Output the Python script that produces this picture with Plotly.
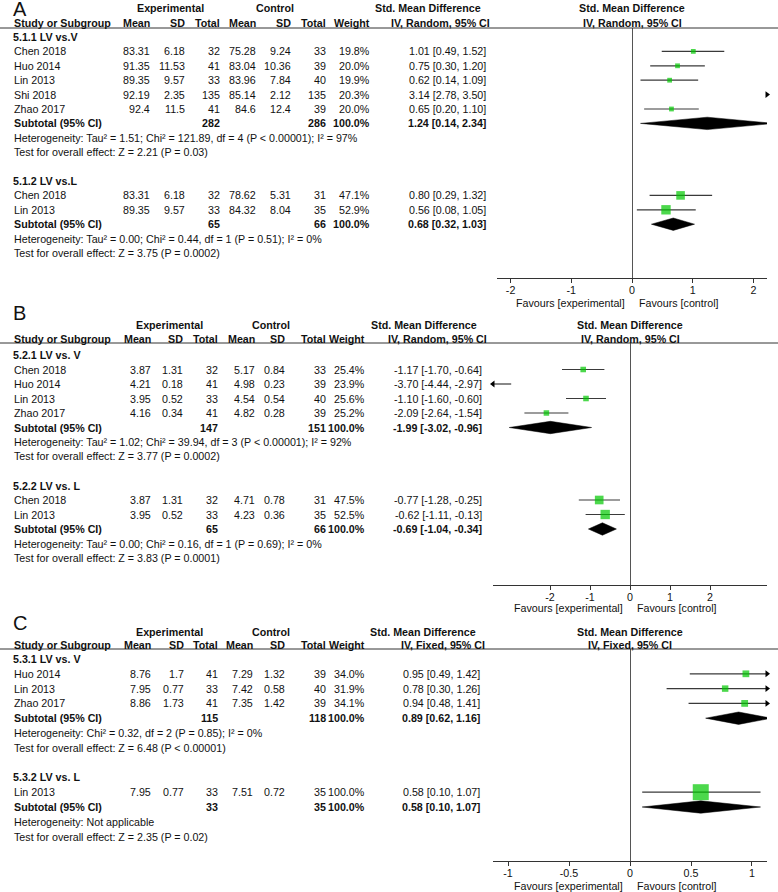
import plotly.graph_objects as go

W, H = 778, 892
FONT = "Liberation Sans, Arial, Helvetica, sans-serif"
FS = 10.7
INK = "#111111"
GREEN = "#00c800"
CI_COLOR = "#3a3a3a"
AXIS_COLOR = "#333333"

# ---------------- panel A : 5.1.x ----------------
A_SUBGROUP = ["5.1.1 LV vs.V", "5.1.2 LV vs.L"]
A_GROUP = [0, 0, 0, 0, 0, 1, 1]
A_STUDY = ["Chen 2018", "Huo 2014", "Lin 2013", "Shi 2018", "Zhao 2017", "Chen 2018", "Lin 2013"]
A_MEAN_E = [83.31, 91.35, 89.35, 92.19, 92.4, 83.31, 89.35]
A_SD_E = [6.18, 11.53, 9.57, 2.35, 11.5, 6.18, 9.57]
A_N_E = [32, 41, 33, 135, 41, 32, 33]
A_MEAN_C = [75.28, 83.04, 83.96, 85.14, 84.6, 78.62, 84.32]
A_SD_C = [9.24, 10.36, 7.84, 2.12, 12.4, 5.31, 8.04]
A_N_C = [33, 39, 40, 135, 39, 31, 35]
A_WEIGHT = [19.8, 20.0, 19.9, 20.3, 20.0, 47.1, 52.9]
A_SMD = [1.01, 0.75, 0.62, 3.14, 0.65, 0.80, 0.56]
A_LO = [0.49, 0.30, 0.14, 2.78, 0.20, 0.29, 0.08]
A_HI = [1.52, 1.20, 1.09, 3.50, 1.10, 1.32, 1.05]
A_SUB_N_E = [282, 65]
A_SUB_N_C = [286, 66]
A_SUB_SMD = [1.24, 0.68]
A_SUB_LO = [0.14, 0.32]
A_SUB_HI = [2.34, 1.03]
A_HET = ["Heterogeneity: Tau² = 1.51; Chi² = 121.89, df = 4 (P < 0.00001); I² = 97%",
         "Heterogeneity: Tau² = 0.00; Chi² = 0.44, df = 1 (P = 0.51); I² = 0%"]
A_TEST = ["Test for overall effect: Z = 2.21 (P = 0.03)",
          "Test for overall effect: Z = 3.75 (P = 0.0002)"]
A_TICKS = [-2, -1, 0, 1, 2]
A_TICKTEXT = ["-2", "-1", "0", "1", "2"]

# ---------------- panel B : 5.2.x ----------------
B_SUBGROUP = ["5.2.1 LV vs. V", "5.2.2 LV vs. L"]
B_GROUP = [0, 0, 0, 0, 1, 1]
B_STUDY = ["Chen 2018", "Huo 2014", "Lin 2013", "Zhao 2017", "Chen 2018", "Lin 2013"]
B_MEAN_E = [3.87, 4.21, 3.95, 4.16, 3.87, 3.95]
B_SD_E = [1.31, 0.18, 0.52, 0.34, 1.31, 0.52]
B_N_E = [32, 41, 33, 41, 32, 33]
B_MEAN_C = [5.17, 4.98, 4.54, 4.82, 4.71, 4.23]
B_SD_C = [0.84, 0.23, 0.54, 0.28, 0.78, 0.36]
B_N_C = [33, 39, 40, 39, 31, 35]
B_WEIGHT = [25.4, 23.9, 25.6, 25.2, 47.5, 52.5]
B_SMD = [-1.17, -3.70, -1.10, -2.09, -0.77, -0.62]
B_LO = [-1.70, -4.44, -1.60, -2.64, -1.28, -1.11]
B_HI = [-0.64, -2.97, -0.60, -1.54, -0.25, -0.13]
B_SUB_N_E = [147, 65]
B_SUB_N_C = [151, 66]
B_SUB_SMD = [-1.99, -0.69]
B_SUB_LO = [-3.02, -1.04]
B_SUB_HI = [-0.96, -0.34]
B_HET = ["Heterogeneity: Tau² = 1.02; Chi² = 39.94, df = 3 (P < 0.00001); I² = 92%",
         "Heterogeneity: Tau² = 0.00; Chi² = 0.16, df = 1 (P = 0.69); I² = 0%"]
B_TEST = ["Test for overall effect: Z = 3.77 (P = 0.0002)",
          "Test for overall effect: Z = 3.83 (P = 0.0001)"]
B_TICKS = [-2, -1, 0, 1, 2]
B_TICKTEXT = ["-2", "-1", "0", "1", "2"]

# ---------------- panel C : 5.3.x ----------------
C_SUBGROUP = ["5.3.1 LV vs. V", "5.3.2 LV vs. L"]
C_GROUP = [0, 0, 0, 1]
C_STUDY = ["Huo 2014", "Lin 2013", "Zhao 2017", "Lin 2013"]
C_MEAN_E = [8.76, 7.95, 8.86, 7.95]
C_SD_E = [1.7, 0.77, 1.73, 0.77]
C_N_E = [41, 33, 41, 33]
C_MEAN_C = [7.29, 7.42, 7.35, 7.51]
C_SD_C = [1.32, 0.58, 1.42, 0.72]
C_N_C = [39, 40, 39, 35]
C_WEIGHT = [34.0, 31.9, 34.1, 100.0]
C_SMD = [0.95, 0.78, 0.94, 0.58]
C_LO = [0.49, 0.30, 0.48, 0.10]
C_HI = [1.42, 1.26, 1.41, 1.07]
C_SUB_N_E = [115, 33]
C_SUB_N_C = [118, 35]
C_SUB_SMD = [0.89, 0.58]
C_SUB_LO = [0.62, 0.10]
C_SUB_HI = [1.16, 1.07]
C_HET = ["Heterogeneity: Chi² = 0.32, df = 2 (P = 0.85); I² = 0%",
         "Heterogeneity: Not applicable"]
C_TEST = ["Test for overall effect: Z = 6.48 (P < 0.00001)",
          "Test for overall effect: Z = 2.35 (P = 0.02)"]
C_TICKS = [-1, -0.5, 0, 0.5, 1]
C_TICKTEXT = ["-1", "-0.5", "0", "0.5", "1"]

# pixel geometry of each panel (layout only)
GEO_A = dict(letter=9, h1=8, h2=23, line=28, row0=37, sp=14.4, axis=278, fav=303,
             x0=497, x1=767, half=2.224, cols=[152, 187, 222, 258, 293, 328, 372, 488],
             exp_c=170, ctl_c=275, smd_r=(483, 492))
GEO_B = dict(letter=313, h1=325, h2=339, line=343, row0=355, sp=14.5, axis=585, fav=608,
             x0=493, x1=767, half=3.425, cols=[153, 185, 220, 257, 287, 328, 367, 484],
             exp_c=169, ctl_c=271, smd_r=(479, 489))
GEO_C = dict(letter=623, h1=632, h2=645, line=649, row0=659, sp=14.8, axis=861, fav=886,
             x0=493, x1=767, half=1.123, cols=[153, 186, 220, 255, 287, 328, 367, 482],
             exp_c=169, ctl_c=271, smd_r=(478, 487))

fig = go.Figure()
annotations = []
shapes = []


def py(p):
    return 1 - p / H


def px(p):
    return p / W


def txt(x, y, s, anchor="left", bold=False, size=FS, xref="paper", xshift=0):
    annotations.append(dict(
        x=x, y=y, xref=xref, yref="paper", text=f"<b>{s}</b>" if bold else s,
        showarrow=False, xanchor=anchor, yanchor="middle", xshift=xshift,
        font=dict(family=FONT, size=size, color=INK)))


def draw_panel(k, letter, method, g, subgroups, group, study, mean_e, sd_e, n_e,
               mean_c, sd_c, n_c, weight, smd, lo, hi, sub_ne, sub_nc, sub_smd,
               sub_lo, sub_hi, het, test, ticks, ticktext):
    sfx = "" if k == 1 else str(k)
    xa, ya = "x" + sfx, "y" + sfx
    xmin, xmax = -g["half"], g["half"]
    cols = g["cols"]

    def rp(r):
        return py(g["row0"] + r * g["sp"])

    fig.layout["xaxis" + sfx] = dict(
        domain=[px(g["x0"]), px(g["x1"])], range=[xmin, xmax], anchor=ya,
        showgrid=False, zeroline=True, zerolinecolor="#555555", zerolinewidth=1,
        showline=True, linecolor=AXIS_COLOR, linewidth=1, ticks="outside",
        ticklen=4, tickcolor=AXIS_COLOR, tickvals=ticks, ticktext=ticktext,
        ticklabelstandoff=-2,
        tickfont=dict(family=FONT, size=FS, color=INK), fixedrange=True)
    fig.layout["yaxis" + sfx] = dict(
        domain=[py(g["axis"]), py(g["line"])],
        range=[(g["axis"] - g["row0"]) / g["sp"], (g["line"] - g["row0"]) / g["sp"]],
        visible=False, anchor=xa, fixedrange=True)

    # headers
    txt(px(11), py(g["letter"]), letter, size=20)
    txt(px(g["exp_c"]), py(g["h1"]), "Experimental", "center", True)
    txt(px(g["ctl_c"]), py(g["h1"]), "Control", "center", True)
    txt(px(g["smd_r"][0]), py(g["h1"]), "Std. Mean Difference", "right", True)
    pc = px((g["x0"] + g["x1"]) / 2)
    txt(pc, py(g["h1"]), "Std. Mean Difference", "center", True)
    txt(px(12), py(g["h2"]), "Study or Subgroup", "left", True)
    for c, lab in zip(cols[:7], ["Mean", "SD", "Total", "Mean", "SD", "Total", "Weight"]):
        txt(px(c), py(g["h2"]), lab, "right", True)
    txt(px(g["smd_r"][1]), py(g["h2"]), method, "right", True)
    txt(pc, py(g["h2"]), method, "center", True)
    shapes.append(dict(type="line", xref="paper", yref="paper", x0=0, x1=1,
                       y0=py(g["line"]), y1=py(g["line"]),
                       line=dict(color=AXIS_COLOR, width=1)))

    # favours labels
    txt(0, py(g["fav"]), "Favours [experimental]", "right", xref=xa, xshift=-5)
    txt(0, py(g["fav"]), "Favours [control]", "left", xref=xa, xshift=5)

    ci_x, ci_y = [], []
    sq_x, sq_y, sq_s = [], [], []
    ar_x, ar_y, ar_sym = [], [], []
    dia_x, dia_y = [], []
    dh = 6.2 / g["sp"]
    r = 0
    for gi, name in enumerate(subgroups):
        txt(px(11), rp(r), name, "left", True)
        r += 1
        for i in [j for j, gg in enumerate(group) if gg == gi]:
            y = rp(r)
            txt(px(12), y, study[i])
            vals = [str(mean_e[i]), str(sd_e[i]), str(n_e[i]), str(mean_c[i]),
                    str(sd_c[i]), str(n_c[i]), f"{weight[i]:.1f}%",
                    f"{smd[i]:.2f} [{lo[i]:.2f}, {hi[i]:.2f}]"]
            for c, v in zip(cols, vals):
                txt(px(c), y, v, "right")
            a, b = max(lo[i], xmin), min(hi[i], xmax)
            if a < b:
                ci_x += [a, b, None]
                ci_y += [r, r, None]
            if hi[i] > xmax:
                ar_x.append(xmax)
                ar_y.append(r)
                ar_sym.append("triangle-right")
            if lo[i] < xmin:
                ar_x.append(xmin)
                ar_y.append(r)
                ar_sym.append("triangle-left")
            if xmin <= smd[i] <= xmax:
                sq_x.append(smd[i])
                sq_y.append(r)
                sq_s.append(2 + 0.14 * weight[i])
            r += 1
        y = rp(r)
        txt(px(12), y, "Subtotal (95% CI)", "left", True)
        txt(px(cols[2]), y, str(sub_ne[gi]), "right", True)
        txt(px(cols[5]), y, str(sub_nc[gi]), "right", True)
        txt(px(cols[6]), y, "100.0%", "right", True)
        txt(px(cols[7]), y, f"{sub_smd[gi]:.2f} [{sub_lo[gi]:.2f}, {sub_hi[gi]:.2f}]",
            "right", True)
        dia_x += [sub_lo[gi], sub_smd[gi], sub_hi[gi], sub_smd[gi], sub_lo[gi], None]
        dia_y += [r, r - dh, r, r + dh, r, None]
        r += 1
        txt(px(12), rp(r), het[gi])
        r += 1
        txt(px(12), rp(r), test[gi])
        r += 2

    fig.add_trace(go.Scatter(x=ci_x, y=ci_y, xaxis=xa, yaxis=ya, mode="lines",
                             line=dict(color=CI_COLOR, width=1.2), hoverinfo="skip"))
    fig.add_trace(go.Scatter(x=dia_x, y=dia_y, xaxis=xa, yaxis=ya, mode="lines",
                             fill="toself", fillcolor="#000000",
                             line=dict(color="#000000", width=0.5), hoverinfo="skip"))
    fig.add_trace(go.Scatter(x=sq_x, y=sq_y, xaxis=xa, yaxis=ya, mode="markers",
                             marker=dict(symbol="square", size=sq_s, color=GREEN,
                                         line=dict(width=0)), hoverinfo="skip"))
    if ar_x:
        fig.add_trace(go.Scatter(x=ar_x, y=ar_y, xaxis=xa, yaxis=ya, mode="markers",
                                 cliponaxis=False,
                                 marker=dict(symbol=ar_sym, size=6, color="#000000",
                                             line=dict(width=0)), hoverinfo="skip"))


draw_panel(1, "A", "IV, Random, 95% CI", GEO_A, A_SUBGROUP, A_GROUP, A_STUDY,
           A_MEAN_E, A_SD_E, A_N_E, A_MEAN_C, A_SD_C, A_N_C, A_WEIGHT, A_SMD, A_LO,
           A_HI, A_SUB_N_E, A_SUB_N_C, A_SUB_SMD, A_SUB_LO, A_SUB_HI, A_HET, A_TEST,
           A_TICKS, A_TICKTEXT)
draw_panel(2, "B", "IV, Random, 95% CI", GEO_B, B_SUBGROUP, B_GROUP, B_STUDY,
           B_MEAN_E, B_SD_E, B_N_E, B_MEAN_C, B_SD_C, B_N_C, B_WEIGHT, B_SMD, B_LO,
           B_HI, B_SUB_N_E, B_SUB_N_C, B_SUB_SMD, B_SUB_LO, B_SUB_HI, B_HET, B_TEST,
           B_TICKS, B_TICKTEXT)
draw_panel(3, "C", "IV, Fixed, 95% CI", GEO_C, C_SUBGROUP, C_GROUP, C_STUDY,
           C_MEAN_E, C_SD_E, C_N_E, C_MEAN_C, C_SD_C, C_N_C, C_WEIGHT, C_SMD, C_LO,
           C_HI, C_SUB_N_E, C_SUB_N_C, C_SUB_SMD, C_SUB_LO, C_SUB_HI, C_HET, C_TEST,
           C_TICKS, C_TICKTEXT)

fig.update_layout(
    width=W, height=H, autosize=False,
    margin=dict(l=0, r=0, t=0, b=0),
    paper_bgcolor="white", plot_bgcolor="white",
    showlegend=False,
    font=dict(family=FONT, size=FS, color=INK),
    annotations=annotations, shapes=shapes,
)

# the page body has a default 8px margin; drop it so the figure sits at 0,0
fig.write_html("out.html", config={"displayModeBar": False},
               post_script="document.body.style.margin='0';")
